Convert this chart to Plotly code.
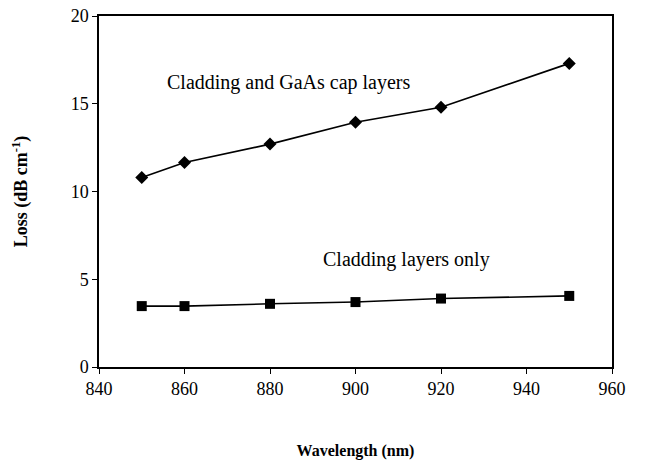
import plotly.graph_objects as go

wavelength = [850, 860, 880, 900, 920, 950]
loss_cap = [10.8, 11.65, 12.7, 13.95, 14.8, 17.3]
loss_clad = [3.47, 3.47, 3.6, 3.7, 3.9, 4.05]

x_ticks = [840, 860, 880, 900, 920, 940, 960]
y_ticks = [0, 5, 10, 15, 20]

font_family = "Liberation Serif"

fig = go.Figure()
fig.add_trace(go.Scatter(
    x=wavelength, y=loss_cap, mode="lines+markers",
    line=dict(color="black", width=1.6),
    marker=dict(symbol="diamond", size=10, color="black"),
    showlegend=False,
))
fig.add_trace(go.Scatter(
    x=wavelength, y=loss_clad, mode="lines+markers",
    line=dict(color="black", width=1.6),
    marker=dict(symbol="square", size=10, color="black"),
    showlegend=False,
))

fig.add_annotation(x=884.3, y=16.2, text="Cladding and GaAs cap layers",
                   showarrow=False, xanchor="center", yanchor="middle",
                   font=dict(family=font_family, size=20, color="black"))
fig.add_annotation(x=912.0, y=6.1, text="Cladding layers only",
                   showarrow=False, xanchor="center", yanchor="middle",
                   font=dict(family=font_family, size=20, color="black"))

fig.update_layout(
    width=666, height=460,
    margin=dict(l=99, r=54, t=16, b=93),
    plot_bgcolor="white", paper_bgcolor="white",
    font=dict(family=font_family, color="black", size=18),
)
fig.update_xaxes(
    range=[840, 960], tickvals=x_ticks, ticks="outside", ticklen=5,
    tickwidth=1, tickcolor="black", automargin=False,
    showline=True, linecolor="black", linewidth=1.5, mirror=True,
    showgrid=False, zeroline=False,
    tickfont=dict(family=font_family, size=18),
    title=dict(text="<b>Wavelength (nm)</b>", standoff=46,
               font=dict(family=font_family, size=16)),
)
fig.update_yaxes(
    range=[0, 20], tickvals=y_ticks, ticks="outside", ticklen=5,
    tickwidth=1, tickcolor="black", automargin=False,
    showline=True, linecolor="black", linewidth=1.5, mirror=True,
    showgrid=False, zeroline=False,
    tickfont=dict(family=font_family, size=18),
    title=dict(text="<b>Loss (dB cm<sup>-1</sup>)</b>", standoff=38,
               font=dict(family=font_family, size=18)),
)

fig.write_html("out.html")
